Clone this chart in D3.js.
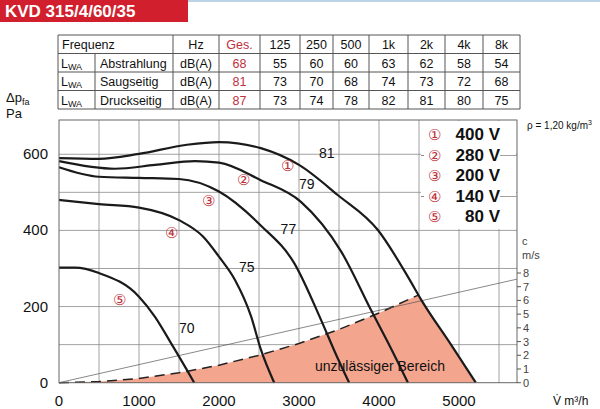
<!DOCTYPE html><html><head><meta charset="utf-8"><script src="https://cdn.jsdelivr.net/npm/d3@7"></script>
<style>body{margin:0;background:#fff}text{font-family:"Liberation Sans",Arial,sans-serif}</style></head><body><svg id="c" width="600" height="409"></svg><script>
const title="KVD 315/4/60/35";
const tableHead=["Frequenz","","Hz","Ges.","125","250","500","1k","2k","4k","8k"];
const tableRows=[["Abstrahlung","dB(A)","68","55","60","60","63","62","58","54"],["Saugseitig","dB(A)","81","73","70","68","74","73","72","68"],["Druckseitig","dB(A)","87","73","74","78","82","81","80","75"]];
const xTicks=[0,1000,2000,3000,4000,5000];
const yTicks=[0,200,400,600];
const cTicks=[0,1,2,3,4,5,6,7,8];
const curve1=[[0,590],[500,588],[1000,601],[1600,625],[2000,632],[2522,616],[3000,572],[3484,493],[3986,401],[4362,278],[4530,217],[4900,100],[5210,0]];
const curve2=[[0,582],[700,562],[1200,572],[1700,582],[2000,578],[2522,532],[3024,475],[3526,345],[3902,190],[4150,90],[4362,0]];
const curve3=[[0,566],[500,541],[1000,538],[1500,535],[2000,502],[2522,413],[2940,314],[3275,165],[3450,80],[3626,0]];
const curve4=[[0,480],[500,469],[1000,460],[1500,427],[1800,384],[2000,331],[2200,270],[2400,175],[2522,88],[2690,0]];
const curve5=[[0,302],[200,302],[500,288],[1000,226],[1200,173],[1400,104],[1600,33],[1690,0]];
const curves=[curve1,curve2,curve3,curve4,curve5];
const dbLabels=[["81",3250,590],["79",3000,510],["77",2770,390],["75",2250,290],["70",1500,130]];
const circLabels=[["①",2850,555],["②",2300,520],["③",1870,463],["④",1400,380],["⑤",760,205]];
const legend=[["①","400 V"],["②","280 V"],["③","200 V"],["④","140 V"],["⑤"," 80 V"]];
const limit=[[0,0],[500,3],[1000,11],[1500,26],[2000,46],[2500,72],[3000,103],[3500,140],[4000,183],[4490,230]];
const limitEdge=[[4490,230],[4530,217],[4900,100],[5210,0]];
const sysLine=[[0,0],[5725,272]];
const svg=d3.select("#c");
const x=d3.scaleLinear().domain([0,5725]).range([59,517]);
const y=d3.scaleLinear().domain([0,690]).range([382.7,120]);
const c=d3.scaleLinear().domain([0,8]).range([382.7,273]);
// title
svg.append("rect").attr("x",0).attr("y",0).attr("width",188).attr("height",22).attr("fill","#d11f2d");
svg.append("line").attr("x1",188).attr("x2",600).attr("y1",1).attr("y2",1).attr("stroke","#bcd3e6").attr("stroke-width",2);
svg.append("text").attr("x",5).attr("y",17).attr("fill","#fff").attr("font-weight","bold").attr("font-size",17).text(title);
// table
const cols=[58,95,173,219,260,300,333,369,408,445,483,520];
const rowY=[35,53.5,72,90.5,109];
const tg=svg.append("g").attr("stroke","#555").attr("stroke-width",1);
rowY.forEach(r=>tg.append("line").attr("x1",58).attr("x2",520).attr("y1",r).attr("y2",r));
cols.forEach((cx,i)=>tg.append("line").attr("x1",cx).attr("x2",cx).attr("y1",i==1?53.5:35).attr("y2",109));
const cen=(i)=>(cols[i]+cols[i+1])/2;
const tt=svg.append("g").attr("font-size",12.5).attr("fill","#111");
tt.append("text").attr("x",62).attr("y",49).text("Frequenz");
tableHead.slice(2).forEach((h,j)=>tt.append("text").attr("x",cen(j+2)).attr("y",49).attr("text-anchor","middle").attr("fill",j==1?"#c0303a":"#111").text(h));
tableRows.forEach((r,i)=>{const yy=67.5+i*18.5;
 const t=tt.append("text").attr("x",61).attr("y",yy);t.append("tspan").text("L");t.append("tspan").attr("font-size",9).attr("dy",2).text("WA");
 tt.append("text").attr("x",100).attr("y",yy).text(r[0]);
 r.slice(1).forEach((v,j)=>tt.append("text").attr("x",cen(j+2)).attr("y",yy).attr("text-anchor","middle").attr("fill",j==1?"#c0303a":"#111").text(v));});
// grid
const gg=svg.append("g").attr("stroke","#8a8a8a").attr("stroke-width",0.8);
d3.range(500,5725,500).forEach(v=>gg.append("line").attr("x1",x(v)).attr("x2",x(v)).attr("y1",120).attr("y2",382.7));
d3.range(100,690,100).forEach(v=>gg.append("line").attr("x1",59).attr("x2",517).attr("y1",y(v)).attr("y2",y(v)));
// limit area
const line=d3.line().x(d=>x(d[0])).y(d=>y(d[1]));
svg.append("path").attr("d",line(limit.concat(limitEdge.slice(1)))+"Z").attr("fill","#f4a58e");
svg.append("path").attr("d",line(limit)).attr("fill","none").attr("stroke","#222").attr("stroke-width",1.5).attr("stroke-dasharray","10,6");
svg.append("path").attr("d",line(sysLine)).attr("stroke","#555").attr("stroke-width",0.7);
// curves
const cl=d3.line().x(d=>x(d[0])).y(d=>y(d[1])).curve(d3.curveMonotoneX);
curves.forEach(cv=>svg.append("path").attr("d",cl(cv)).attr("fill","none").attr("stroke","#1a1a1a").attr("stroke-width",2.2));
// border
svg.append("rect").attr("x",59).attr("y",120).attr("width",458).attr("height",262.7).attr("fill","none").attr("stroke","#666");
// legend
svg.append("rect").attr("x",421).attr("y",121).attr("width",95).attr("height",108).attr("fill","#fff");
legend.forEach((l,i)=>{const yy=140+i*20.5;
 svg.append("text").attr("x",428).attr("y",yy).attr("font-size",15).attr("fill","#c0303a").text(l[0]);
 svg.append("text").attr("x",500).attr("y",yy).attr("text-anchor","end").attr("font-size",17).attr("font-weight","bold").attr("fill","#111").text(l[1]);
 if(i==1||i==3){svg.append("line").attr("x1",500).attr("x2",517).attr("y1",yy-5).attr("y2",yy-5).attr("stroke","#8a8a8a").attr("stroke-width",0.8);svg.append("line").attr("x1",421).attr("x2",424).attr("y1",yy-5).attr("y2",yy-5).attr("stroke","#8a8a8a");}});
dbLabels.forEach(l=>svg.append("text").attr("x",x(l[1])).attr("y",y(l[2])).attr("font-size",14).attr("fill","#111").text(l[0]));
circLabels.forEach(l=>svg.append("text").attr("x",x(l[1])).attr("y",y(l[2])).attr("font-size",15).attr("fill","#c0303a").attr("text-anchor","middle").text(l[0]));
svg.append("text").attr("x",x(3200)).attr("y",y(30)).attr("font-size",14).attr("fill","#111").text("unzulässiger Bereich");
// axes
const ax=svg.append("g").attr("font-size",15).attr("fill","#111");
xTicks.forEach(v=>ax.append("text").attr("x",x(v)).attr("y",406).attr("text-anchor","middle").text(v));
yTicks.forEach(v=>ax.append("text").attr("x",48).attr("y",y(v)+5).attr("text-anchor","end").text(v));
const yl=svg.append("text").attr("x",6).attr("y",102).attr("font-size",13).attr("fill","#111");yl.append("tspan").text("Δp");yl.append("tspan").attr("font-size",9).attr("dy",3).text("fa");
svg.append("text").attr("x",6).attr("y",118).attr("font-size",13).attr("fill","#111").text("Pa");
svg.append("text").attr("x",553).attr("y",405).attr("font-size",12).attr("fill","#111").text("V̇ m³/h");
const cg=svg.append("g").attr("font-size",11).attr("fill","#444");
cTicks.forEach(v=>{cg.append("line").attr("x1",517).attr("x2",521).attr("y1",c(v)).attr("y2",c(v)).attr("stroke","#555");cg.append("text").attr("x",523).attr("y",c(v)+4).text(v);});
cg.append("text").attr("x",522).attr("y",245).text("c");
cg.append("text").attr("x",522).attr("y",259).text("m/s");
svg.append("text").attr("x",527).attr("y",129).attr("font-size",10).attr("fill","#111").html("ρ = 1,20 kg/m<tspan dy='-4' font-size='7'>3</tspan>");
</script></body></html>
